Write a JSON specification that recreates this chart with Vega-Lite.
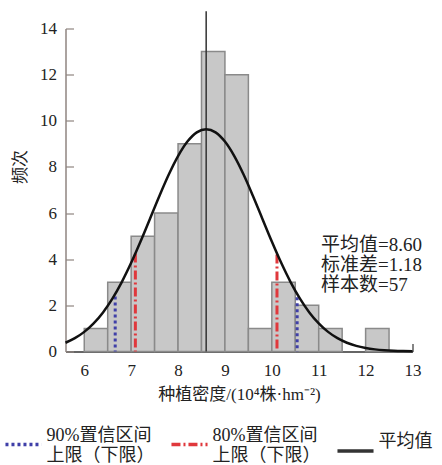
{
  "$schema": "https://vega.github.io/schema/vega-lite/v6.json",
  "width": 347,
  "height": 323,
  "autosize": {"type": "none"},
  "padding": {"left": 65.5, "top": 28.5, "right": 29.5, "bottom": 113.5},
  "background": "white",
  "config": {
    "view": {"stroke": null},
    "font": "'Liberation Serif', 'Noto Sans CJK SC'",
    "axis": {
      "labelFont": "'Liberation Serif', 'Noto Sans CJK SC'",
      "titleFont": "'Liberation Serif', 'Noto Sans CJK SC'",
      "labelFontSize": 17,
      "titleFontSize": 17,
      "titleFontWeight": "normal",
      "labelColor": "#222",
      "titleColor": "#222",
      "labelFlush": false,
      "grid": false,
      "tickSize": -8,
      "tickWidth": 1.2,
      "domainWidth": 1.5
    }
  },
  "datasets": {
    "bins": [
      {"start": 6.0, "end": 6.5, "count": 1},
      {"start": 6.5, "end": 7.0, "count": 3},
      {"start": 7.0, "end": 7.5, "count": 5},
      {"start": 7.5, "end": 8.0, "count": 6},
      {"start": 8.0, "end": 8.5, "count": 9},
      {"start": 8.5, "end": 9.0, "count": 13},
      {"start": 9.0, "end": 9.5, "count": 12},
      {"start": 9.5, "end": 10.0, "count": 1},
      {"start": 10.0, "end": 10.5, "count": 3},
      {"start": 10.5, "end": 11.0, "count": 2},
      {"start": 11.0, "end": 11.5, "count": 1},
      {"start": 12.0, "end": 12.5, "count": 1}
    ],
    "curve": [
      {"x": 5.6, "y": 0.380}, {"x": 5.8, "y": 0.577}, {"x": 6.0, "y": 0.850},
      {"x": 6.2, "y": 1.218}, {"x": 6.4, "y": 1.695}, {"x": 6.6, "y": 2.291},
      {"x": 6.8, "y": 3.010}, {"x": 7.0, "y": 3.843}, {"x": 7.2, "y": 4.767},
      {"x": 7.4, "y": 5.746}, {"x": 7.6, "y": 6.729}, {"x": 7.8, "y": 7.658},
      {"x": 8.0, "y": 8.468}, {"x": 8.2, "y": 9.098}, {"x": 8.4, "y": 9.499},
      {"x": 8.6, "y": 9.636}, {"x": 8.8, "y": 9.499}, {"x": 9.0, "y": 9.098},
      {"x": 9.2, "y": 8.468}, {"x": 9.4, "y": 7.658}, {"x": 9.6, "y": 6.729},
      {"x": 9.8, "y": 5.746}, {"x": 10.0, "y": 4.767}, {"x": 10.2, "y": 3.843},
      {"x": 10.4, "y": 3.010}, {"x": 10.6, "y": 2.291}, {"x": 10.8, "y": 1.695},
      {"x": 11.0, "y": 1.218}, {"x": 11.2, "y": 0.850}, {"x": 11.4, "y": 0.577},
      {"x": 11.6, "y": 0.380}, {"x": 11.8, "y": 0.244}, {"x": 12.0, "y": 0.152},
      {"x": 12.2, "y": 0.092}, {"x": 12.4, "y": 0.054}, {"x": 12.6, "y": 0.031},
      {"x": 12.8, "y": 0.017}, {"x": 13.0, "y": 0.009}
    ],
    "lines": [
      {"type": "90%置信区间|上限（下限）", "x": 6.66, "top": 2.38},
      {"type": "90%置信区间|上限（下限）", "x": 10.54, "top": 2.35},
      {"type": "80%置信区间|上限（下限）", "x": 7.09, "top": 4.25},
      {"type": "80%置信区间|上限（下限）", "x": 10.11, "top": 4.2},
      {"type": "平均值", "x": 8.6, "top": 14.75}
    ],
    "stats": [
      {"t": "平均值=8.60|标准差=1.18|样本数=57"}
    ]
  },
  "layer": [
    {
      "data": {"name": "bins"},
      "mark": {"type": "rect", "fill": "#c8c8c8", "stroke": "#8a8a8a", "strokeWidth": 1.5},
      "encoding": {
        "x": {
          "field": "start", "type": "quantitative",
          "scale": {"domain": [5.6, 13], "nice": false, "zero": false},
          "axis": {
            "values": [6, 7, 8, 9, 10, 11, 12, 13],
            "title": "种植密度/(10⁴株·hm⁻²)",
            "domainColor": "#333",
            "tickColor": "#333",
            "labelPadding": 19,
            "titlePadding": 8
          }
        },
        "x2": {"field": "end"},
        "y": {
          "field": "count", "type": "quantitative",
          "scale": {"domain": [0, 14], "nice": false},
          "axis": {
            "values": [0, 2, 4, 6, 8, 10, 12, 14],
            "title": "频次",
            "domainColor": "#8f8580",
            "tickColor": "#8f8580",
            "labelPadding": 17,
            "titleX": -36,
            "titleY": 138,
            "titleAnchor": "middle"
          }
        },
        "y2": {"datum": 0}
      }
    },
    {
      "data": {"name": "lines"},
      "mark": {"type": "rule"},
      "encoding": {
        "x": {"field": "x", "type": "quantitative"},
        "y": {"field": "top", "type": "quantitative"},
        "y2": {"datum": 0},
        "color": {
          "field": "type", "type": "nominal",
          "scale": {
            "domain": ["90%置信区间|上限（下限）", "80%置信区间|上限（下限）", "平均值"],
            "range": ["#3f3fa8", "#e0383c", "#333333"]
          },
          "legend": {
            "orient": "none",
            "legendX": -62,
            "legendY": 396,
            "direction": "horizontal",
            "title": null,
            "symbolType": "stroke",
            "symbolSize": 1300,
            "symbolStrokeWidth": 3.5,
            "labelFont": "'Liberation Serif', 'Noto Sans CJK SC'",
            "labelFontSize": 18,
            "labelColor": "#222",
            "labelLimit": 300,
            "labelOffset": 3,
            "labelBaseline": "bottom",
            "labelLineHeight": 18,
            "columnPadding": 9,
            "labelExpr": "split(datum.label, '|')"
          }
        },
        "strokeDash": {
          "field": "type", "type": "nominal",
          "scale": {
            "domain": ["90%置信区间|上限（下限）", "80%置信区间|上限（下限）", "平均值"],
            "range": [[3, 3], [9, 3, 2, 3], [1, 0]]
          },
          "legend": {
            "orient": "none",
            "legendX": -62,
            "legendY": 396,
            "direction": "horizontal",
            "title": null,
            "symbolType": "stroke",
            "symbolSize": 1300,
            "symbolStrokeWidth": 3.5,
            "labelFont": "'Liberation Serif', 'Noto Sans CJK SC'",
            "labelFontSize": 18,
            "labelColor": "#222",
            "labelLimit": 300,
            "labelOffset": 3,
            "labelBaseline": "bottom",
            "labelLineHeight": 18,
            "columnPadding": 9,
            "labelExpr": "split(datum.label, '|')"
          }
        },
        "strokeWidth": {
          "condition": {"test": "datum.type === '平均值'", "value": 1.5},
          "value": 3
        }
      }
    },
    {
      "data": {"name": "curve"},
      "mark": {"type": "line", "color": "#111", "strokeWidth": 2.5, "interpolate": "monotone"},
      "encoding": {
        "x": {"field": "x", "type": "quantitative"},
        "y": {"field": "y", "type": "quantitative"}
      }
    },
    {
      "data": {"name": "stats"},
      "mark": {
        "type": "text", "align": "left", "baseline": "top",
        "lineBreak": "|", "lineHeight": 20, "fontSize": 19,
        "font": "'Liberation Serif', 'Noto Sans CJK SC'", "color": "#222"
      },
      "encoding": {
        "x": {"datum": 11.05},
        "y": {"datum": 5.0},
        "text": {"field": "t"}
      }
    }
  ]
}
